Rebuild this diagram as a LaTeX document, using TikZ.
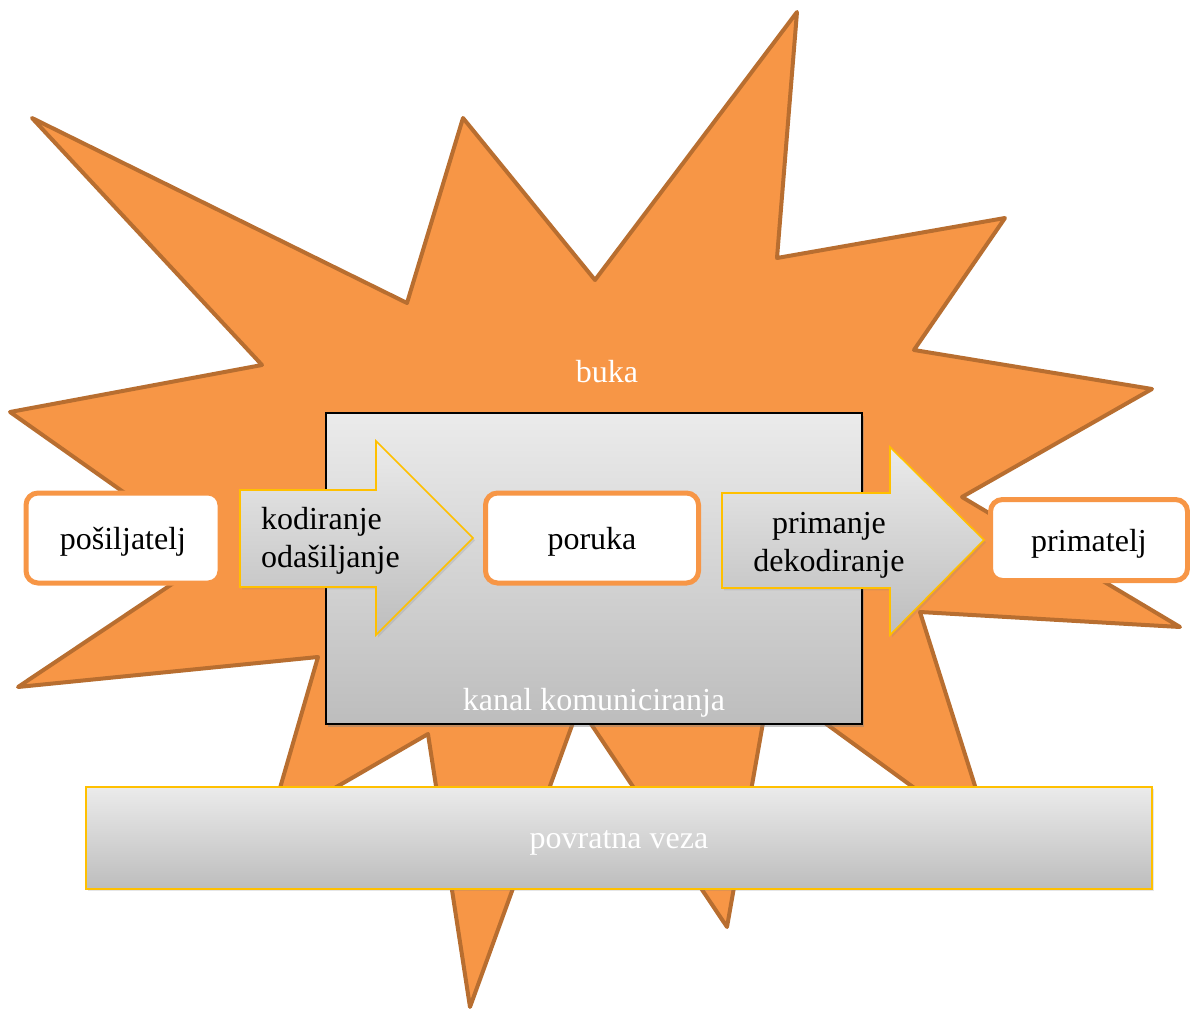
\documentclass[tikz,border=0pt]{standalone}
\usepackage{fontspec}
\setmainfont{Liberation Serif}
\usetikzlibrary{shadows}
\definecolor{bukafill}{HTML}{F79646}
\definecolor{bukaline}{HTML}{B86E30}
\definecolor{zlatna}{HTML}{FFC000}
\definecolor{svijetlo}{HTML}{EBEBEB}
\definecolor{tamno}{HTML}{BDBDBD}
\tikzset{
  buka/.style={fill=bukafill,draw=bukaline,line width=2pt,line join=round},
  kutija/.style={draw=bukafill,fill=white,line width=2.5pt,rounded corners=6pt,inner sep=0pt,text depth=0pt},
  kanal/.style={draw=black,line width=1pt,top color=svijetlo,bottom color=tamno,
    drop shadow={shadow xshift=1.2pt,shadow yshift=-1.5pt,opacity=0.45}},
  strelica/.style={draw=zlatna,line width=0.8pt,top color=svijetlo,bottom color=tamno,
    drop shadow={shadow xshift=1pt,shadow yshift=-1.2pt,opacity=0.2}},
  natpis/.style={text=white}
}
\begin{document}
\begin{tikzpicture}[x=0.5pt,y=-0.5pt,font=\fontsize{16}{19}\selectfont]
      \useasboundingbox (0,0) rectangle (1190,1011);
      % buka
      \filldraw[buka] (32,118) -- (407,303) -- (463,118) -- (595,280) -- (797,12)
        -- (777,258) -- (1005,218) -- (914,350) -- (1152,389) -- (962,497)
        -- (1180,627) -- (920,612) -- (994,846) -- (770,683) -- (727,927)
        -- (579,706) -- (470,1007) -- (428,734) -- (269,826) -- (318,657)
        -- (18,687) -- (214,556) -- (10,412) -- (262,365) -- cycle;
      \node[natpis] (buka) at (607,372) {buka};
      % kanal
      \node[kanal,minimum width=268pt,minimum height=155.5pt] (kanal) at (594,568.5) {};
      \node[natpis] (kanallbl) at (594,703) {kanal komuniciranja};
      % strelice
      \draw[strelica] (240,490) -- (376,490) -- (376,441) -- (473,538)
        -- (376,635) -- (376,587) -- (240,587) -- cycle;
      \node[anchor=west,align=left] (kodiranje) at (254,541) {kodiranje\\odašiljanje};
      \draw[strelica] (722,493) -- (890,493) -- (890,447) -- (984,540)
        -- (890,635) -- (890,588) -- (722,588) -- cycle;
      \node[align=center] (primanje) at (829,545) {primanje\\dekodiranje};
      % kutije
      \node[kutija,minimum width=97pt,minimum height=45pt] (posiljatelj) at (123,538) {pošiljatelj};
      \node[kutija,minimum width=106.5pt,minimum height=45pt] (poruka) at (592,538) {poruka};
      \node[kutija,minimum width=98.5pt,minimum height=40.5pt] (primatelj) at (1089,540) {primatelj};
      % povratna veza
      \node[strelica,minimum width=533pt,minimum height=51pt] (veza) at (619,838) {};
      \node[natpis] (vezalbl) at (619,843) {povratna veza};
\end{tikzpicture}
\end{document}
